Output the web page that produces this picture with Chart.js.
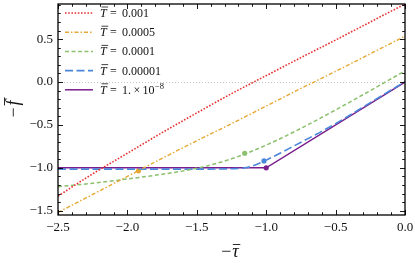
<!DOCTYPE html>
<html><head><meta charset="utf-8">
<script src="https://cdn.jsdelivr.net/npm/chart.js@4"></script>
<style>html,body{margin:0;padding:0;background:#fff}#wrap{width:415px;height:263px}</style>
</head><body>
<div id="wrap"><canvas id="c"></canvas></div>
<script>
// ---- data ----
const tauGrid = [-2.5,-2.25,-2.0,-1.75,-1.5,-1.25,-1.0,-0.75,-0.5,-0.25,0.0];
const fT1e3   = [-1.33,-1.07,-0.83,-0.59,-0.36,-0.135,0.075,0.285,0.49,0.70,0.91];
const fT5e4   = [-1.52,-1.31,-1.10,-0.89,-0.685,-0.485,-0.28,-0.075,0.125,0.33,0.535];
const fT1e4   = [-1.22,-1.18,-1.13,-1.075,-1.005,-0.895,-0.735,-0.54,-0.325,-0.10,0.13];
const tauT1e5 = [-2.5,-2.0,-1.5,-1.25,-1.15,-1.1,-1.0,-0.9,-0.8,-0.7,-0.6,-0.5,-0.25,0.0];
const fT1e5   = [-1.015,-1.015,-1.015,-1.01,-1.0,-0.98,-0.91,-0.83,-0.745,-0.66,-0.575,-0.485,-0.24,0.005];
const tauT1e8 = [-2.5,-1.0,0.0];
const fT1e8   = [-1.0,-1.0,0.0];
// highlighted points (series index, tau, f)
const markSeries = [1,2,3,4];
const markTau    = [-1.92,-1.155,-1.016,-1.0];
const markF      = [-1.035,-0.83,-0.92,-1.0];
// legend values
const legendValues = ['0.001','0.0005','0.0001','0.00001','1.\u2009\u00d7\u200910^\u22128'];
const xTicks = [-2.5,-2.0,-1.5,-1.0,-0.5,0.0];
const yTicks = [-1.5,-1.0,-0.5,0.0,0.5];

const colors = ['rgb(232,50,50)','rgb(230,168,52)','rgb(140,192,110)','rgb(74,134,218)','rgb(122,30,140)'];
const dashes = [[1.6,1.6],[4,2,1.5,2],[4,2.5],[8,3.5],[]];
const widths = [1.6,1.4,1.5,1.6,1.5];

const pts = (xs, ys) => xs.map((x,i)=>({x, y: ys[i]}));
const seriesPts = [
  pts(tauGrid,fT1e3), pts(tauGrid,fT5e4), pts(tauGrid,fT1e4),
  pts(tauT1e5,fT1e5), pts(tauT1e8,fT1e8)
];
const datasets = seriesPts.map((d,i)=>({
  type:'line', data:d, borderColor:colors[i], borderWidth:widths[i], borderDash:dashes[i],
  pointRadius:0, fill:false, cubicInterpolationMode: i===4 ? 'default' : 'monotone', tension: i===4 ? 0 : 0.4
}));
markSeries.forEach((s,k)=>{
  datasets.push({type:'scatter', data:[{x:markTau[k], y:markF[k]}], pointRadius:2.6,
    pointBackgroundColor:colors[s], pointBorderColor:colors[s], pointBorderWidth:0, showLine:false});
});

const minus = s => s.replace('-', '\u2212');
const SERIF = '"Liberation Serif","DejaVu Serif",serif';

const decor = {
  id:'decor',
  beforeDatasetsDraw(chart){
    const {ctx, chartArea:a, scales:{y}} = chart;
    const y0 = y.getPixelForValue(0);
    ctx.save(); ctx.strokeStyle='#c4c4c4'; ctx.lineWidth=1; ctx.setLineDash([1,2]);
    ctx.beginPath(); ctx.moveTo(a.left,y0+0.5); ctx.lineTo(a.right,y0+0.5); ctx.stroke(); ctx.restore();
  },
  afterDraw(chart){
    const {ctx, chartArea:a, scales:{x,y}} = chart;
    ctx.save();
    // frame
    ctx.strokeStyle='#000'; ctx.lineWidth=1.3;
    ctx.strokeRect(a.left, a.top, a.right-a.left, a.bottom-a.top);
    // ticks
    ctx.lineWidth=0.9;
    ctx.beginPath();
    for(let i=0;i<=25;i++){
      const v=-2.5+i*0.1, px=Math.round(x.getPixelForValue(v))+0.5, L = i%5===0?5:2.8;
      ctx.moveTo(px,a.bottom); ctx.lineTo(px,a.bottom-L);
      ctx.moveTo(px,a.top); ctx.lineTo(px,a.top+L);
    }
    for(let i=-15;i<=9;i++){
      const v=i*0.1, py=Math.round(y.getPixelForValue(v))+0.5, L = i%5===0?5:2.8;
      ctx.moveTo(a.left,py); ctx.lineTo(a.left+L,py);
      ctx.moveTo(a.right,py); ctx.lineTo(a.right-L,py);
    }
    ctx.stroke();
    // legend
    ctx.setLineDash([]);
    legendValues.forEach((val,i)=>{
      const cy = 13 + i*19.2;
      ctx.save();
      ctx.strokeStyle=colors[i]; ctx.lineWidth=widths[i]; ctx.setLineDash(dashes[i]);
      ctx.beginPath(); ctx.moveTo(65,cy); ctx.lineTo(93,cy); ctx.stroke();
      ctx.restore();
      ctx.fillStyle='#111'; ctx.textBaseline='alphabetic';
      const base = cy+4;
      ctx.font='italic 12px '+SERIF;
      ctx.fillText('T',100,base);
      const tw = ctx.measureText('T').width;
      ctx.lineWidth=0.8; ctx.strokeStyle='#111';
      ctx.beginPath(); ctx.moveTo(101.5,base-10); ctx.lineTo(100+tw+1.5,base-10); ctx.stroke();
      ctx.font='12px '+SERIF;
      ctx.fillText('=',110,base);
      const parts = val.split('^');
      ctx.fillText(parts[0],122,base);
      if(parts[1]){
        const w = ctx.measureText(parts[0]).width;
        ctx.font='8.5px '+SERIF;
        ctx.fillText(parts[1],122+w+0.5,base-5);
      }
    });
    // axis titles
    ctx.fillStyle='#111'; ctx.strokeStyle='#111'; ctx.lineWidth=0.9;
    // x title
    ctx.font='18px '+SERIF;
    const mw = ctx.measureText('\u2212').width;
    ctx.font='italic 18px '+SERIF;
    const tw = ctx.measureText('\u03c4').width;
    let x0 = 230 - (mw+1+tw)/2, bx = 257;
    ctx.font='18px '+SERIF; ctx.fillText('\u2212',x0,bx);
    ctx.font='italic 18px '+SERIF; ctx.fillText('\u03c4',x0+mw+1,bx);
    ctx.beginPath(); ctx.moveTo(x0+mw+1.5,bx-12.5); ctx.lineTo(x0+mw+tw+2.5,bx-12.5); ctx.stroke();
    // y title
    ctx.save();
    ctx.translate(18.5,108); ctx.rotate(-Math.PI/2);
    ctx.font='italic 18px '+SERIF;
    const fw = ctx.measureText('f').width;
    let u0 = -(mw+2+fw+2)/2;
    ctx.font='18px '+SERIF; ctx.fillText('\u2212',u0,0);
    ctx.font='italic 18px '+SERIF; ctx.fillText('f',u0+mw+2,0);
    ctx.beginPath(); ctx.moveTo(u0+mw+2,-14); ctx.lineTo(u0+mw+2+fw+3,-14); ctx.stroke();
    ctx.restore();
    ctx.restore();
  }
};

const noPad = s => { s.paddingTop=0; s.paddingBottom=0; s.paddingLeft=0; s.paddingRight=0; };

new Chart(document.getElementById('c'), {
  data:{datasets},
  options:{
    responsive:true, maintainAspectRatio:false, animation:false,
    layout:{padding:{top:2,right:10,left:0,bottom:0}},
    plugins:{legend:{display:false}, tooltip:{enabled:false}},
    scales:{
      x:{type:'linear', min:-2.5, max:0,
         afterFit(s){s.height=48; noPad(s);},
         afterBuildTicks(s){s.ticks = xTicks.map(v=>({value:v}));},
         grid:{display:false, drawTicks:false}, border:{display:false},
         ticks:{padding:5, color:'#111', font:{family:SERIF,size:13}, maxRotation:0,
                callback:v=>minus(v.toFixed(1))}},
      y:{type:'linear', min:-1.55, max:0.91,
         afterFit(s){s.width=58; noPad(s);},
         afterBuildTicks(s){s.ticks = yTicks.map(v=>({value:v}));},
         grid:{display:false, drawTicks:false}, border:{display:false},
         ticks:{padding:5, color:'#111', font:{family:SERIF,size:13},
                callback:v=>minus(v.toFixed(1))}}
    }
  },
  plugins:[decor]
});
</script>
</body></html>
